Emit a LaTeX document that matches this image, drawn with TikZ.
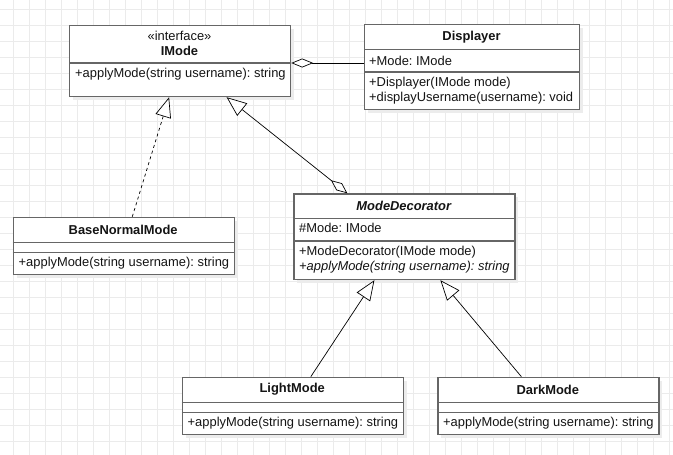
\documentclass[tikz,border=0pt]{standalone}
\usepackage{fontspec}
\setmainfont{Liberation Sans}
\usepackage{tikz}
\usetikzlibrary{
    arrows.meta,
    shadows,
    calc,
    positioning
}
\definecolor{boxgray}{RGB}{102,102,102}
\definecolor{gridgray}{RGB}{235,235,235}
\definecolor{shadowgray}{RGB}{236,236,236}
\definecolor{txt}{RGB}{20,20,20}
\newcommand\umlfont{\fontsize{12.9}{15}\selectfont}
\frenchspacing

\begin{document}
\begin{tikzpicture}[x=1pt, y=-1pt,
    cls/.style={draw=boxgray, line width=1.2pt, fill=white, anchor=north west,
        inner sep=0pt, minimum width=221pt,
        general shadow={fill=shadowgray, shadow xshift=3.5pt, shadow yshift=-3.5pt}},
    divider/.style={draw=boxgray, line width=1.2pt},
    title/.style={font=\umlfont\bfseries, text=txt, inner sep=0pt},
    member/.style={font=\umlfont, text=txt, anchor=west, inner sep=0pt},
    realize/.style={-{Triangle[length=20pt, width=16pt, fill=white]}, line width=0.7pt, dash pattern=on 3pt off 3pt},
    inherit/.style={-{Triangle[length=20pt, width=16pt, fill=white]}, line width=0.7pt},
    aggr/.style={-{Diamond[length=22pt, width=9pt, fill=white]}, line width=0.7pt}
]
    \useasboundingbox (0,0) rectangle (673,455);
    \fill[white] (0,0) rectangle (673,455);
    % grid
    \foreach \gx in {13.3,29.3,...,669.3}
        \draw[gridgray, line width=0.9pt] (\gx,0) -- (\gx,455);
    \foreach \gy in {9.3,25.3,...,449.3}
        \draw[gridgray, line width=0.9pt] (0,\gy) -- (673,\gy);

    % classes
    \node[cls, minimum height=71pt] (imode) at (69,25) {};
    \node[title, font=\umlfont] at (179.5,36) {«interface»};
    \node[title] at (179.5,51) {IMode};
    \draw[divider] (imode.west |- 0,63) -- (imode.east |- 0,63);
    \node[member] at (75,74) {+applyMode(string username): string};

    \node[cls, minimum width=215pt, minimum height=85pt] (disp) at (364,24) {};
    \node[title] at (471.5,37.5) {Displayer};
    \draw[divider] (disp.west |- 0,49.5) -- (disp.east |- 0,49.5);
    \node[member] at (369,61) {+Mode: IMode};
    \draw[divider] (disp.west |- 0,72) -- (disp.east |- 0,72);
    \node[member] at (369,83) {+Displayer(IMode mode)};
    \node[member] at (369,98) {+displayUsername(username): void};

    \node[cls, minimum height=57pt] (base) at (12.7,216.7) {};
    \node[title] at (123.2,230) {BaseNormalMode};
    \draw[divider] (base.west |- 0,242.3) -- (base.east |- 0,242.3);
    \draw[divider] (base.west |- 0,252.3) -- (base.east |- 0,252.3);
    \node[member] at (18.5,263) {+applyMode(string username): string};

    \node[cls, minimum height=85.7pt] (deco) at (293.3,193.3) {};
    \node[title, font=\umlfont\bfseries\itshape] at (403.8,205.7) {ModeDecorator};
    \draw[divider] (deco.west |- 0,218.3) -- (deco.east |- 0,218.3);
    \node[member] at (299,228.3) {\#Mode: IMode};
    \draw[divider] (deco.west |- 0,241) -- (deco.east |- 0,241);
    \node[member] at (299,251.7) {+ModeDecorator(IMode mode)};
    \node[member, font=\umlfont\itshape] at (299,266.7) {+applyMode(string username): string};

    \node[cls, minimum height=57pt] (light) at (181.7,376.7) {};
    \node[title] at (292.2,389.5) {LightMode};
    \draw[divider] (light.west |- 0,402.3) -- (light.east |- 0,402.3);
    \draw[divider] (light.west |- 0,412.7) -- (light.east |- 0,412.7);
    \node[member] at (187.5,423.5) {+applyMode(string username): string};

    \node[cls, minimum height=57pt] (dark) at (437.3,376.7) {};
    \node[title] at (547.8,389.5) {DarkMode};
    \draw[divider] (dark.west |- 0,402.3) -- (dark.east |- 0,402.3);
    \draw[divider] (dark.west |- 0,412.7) -- (dark.east |- 0,412.7);
    \node[member] at (443,423.5) {+applyMode(string username): string};

    % relations
    \draw[aggr] (disp.west |- 0,63) -- (imode.east |- 0,63);
    \draw[realize] ([xshift=8.5pt]base.north) -- ([xshift=-11pt]imode.south);
    \draw[inherit, {Diamond[length=21pt, width=9pt, fill=white]}-{Triangle[length=20pt, width=16pt, fill=white]}]
        ([xshift=-57pt]deco.north) -- ([xshift=46.5pt]imode.south);
    \draw[inherit] ([xshift=18pt]light.north) -- ([xshift=-30pt]deco.south);
    \draw[inherit] ([xshift=-27pt]dark.north) -- ([xshift=36pt]deco.south);
\end{tikzpicture}
\end{document}
